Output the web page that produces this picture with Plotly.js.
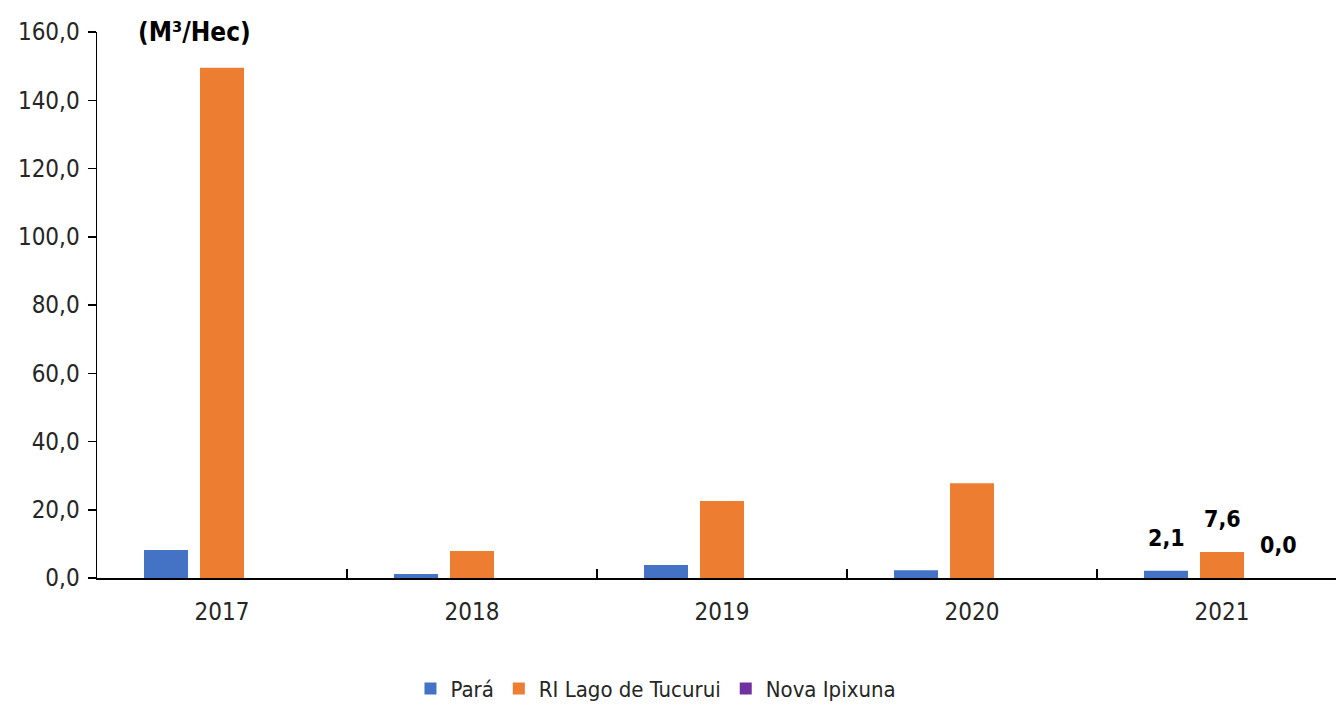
<!DOCTYPE html>
<html><head><meta charset="utf-8">
<script src="https://cdn.plot.ly/plotly-3.0.1.min.js"></script>
<style>html,body{margin:0;padding:0;background:#fff;overflow:hidden}</style>
</head><body><div id="chart" style="width:1336px;height:705px"></div>
<script>
const years = ['2017','2018','2019','2020','2021'];
const para = [8.2, 1.2, 3.8, 2.3, 2.1];
const tucurui = [149.5, 7.9, 22.6, 27.8, 7.6];
const novaIpixuna = [null, null, null, null, 0.0];
const seriesNames = ['Pará', 'RI Lago de Tucurui', 'Nova Ipixuna'];
const colors = ['#4472C4', '#ED7D31', '#7030A0'];
const labelYear = '2021';

const FONT = '"Liberation Sans Narrow", "Arial Narrow", "DejaVu Sans Condensed", "Liberation Sans", Arial, sans-serif';
const seriesData = [para, tucurui, novaIpixuna];
const traces = seriesData.map((vals, i) => ({
  type: 'bar', name: seriesNames[i], x: years, y: vals,
  marker: {color: colors[i]}, hoverinfo: 'none'
}));

const idx = years.indexOf(labelYear);
const shifts = [-56, 0, 56];
const annotations = seriesData.map((vals, i) => ({
  x: idx, y: vals[idx], xref: 'x', yref: 'y',
  text: '<b>' + vals[idx].toFixed(1).replace('.', ',') + '</b>', showarrow: false,
  xshift: shifts[i], yshift: 33, yanchor: 'middle', xanchor: 'center',
  font: {family: FONT, size: 23, color: '#000'}
}));
annotations.push({
  x: 0.079, y: 1.0, xref: 'paper', yref: 'paper', text: '<b>(M³/Hec)</b>',
  showarrow: false, xanchor: 'center', yanchor: 'middle',
  font: {family: FONT, size: 26, color: '#000'}
});

const layout = {
  width: 1336, height: 705,
  margin: {l: 97, r: 0, t: 32, b: 127, autoexpand: false},
  paper_bgcolor: '#fff', plot_bgcolor: '#fff',
  separators: ',.',
  barmode: 'group', bargap: 0.328, bargroupgap: 0.214,
  font: {family: FONT, size: 22, color: '#262626'},
  showlegend: true,
  legend: {orientation: 'h', xref: 'container', yref: 'container', x: 0.491, xanchor: 'center',
           y: 0.023, yanchor: 'middle',
           font: {family: FONT, size: 22, color: '#262626'}, itemclick: false, traceorder: 'normal'},
  xaxis: {type: 'category', range: [-0.5, 4.456], showline: true, linecolor: '#000', linewidth: 1.5,
          ticks: 'inside', tickson: 'boundaries', ticklen: 9, tickcolor: '#000', tickwidth: 1.5,
          showgrid: false, zeroline: false, ticklabelstandoff: 12, automargin: false,
          tickfont: {family: FONT, size: 24, color: '#262626'}},
  yaxis: {range: [0, 160], dtick: 20, tickformat: '.1f', showline: true, linecolor: '#000', linewidth: 1.5,
          ticks: 'outside', ticklen: 8, tickcolor: '#000', tickwidth: 1.5, showgrid: false, zeroline: false,
          automargin: false,
          tickfont: {family: FONT, size: 24, color: '#262626'}, ticklabelstandoff: 3},
  annotations: annotations
};
Plotly.newPlot('chart', traces, layout, {displayModeBar: false, staticPlot: true});
</script></body></html>
